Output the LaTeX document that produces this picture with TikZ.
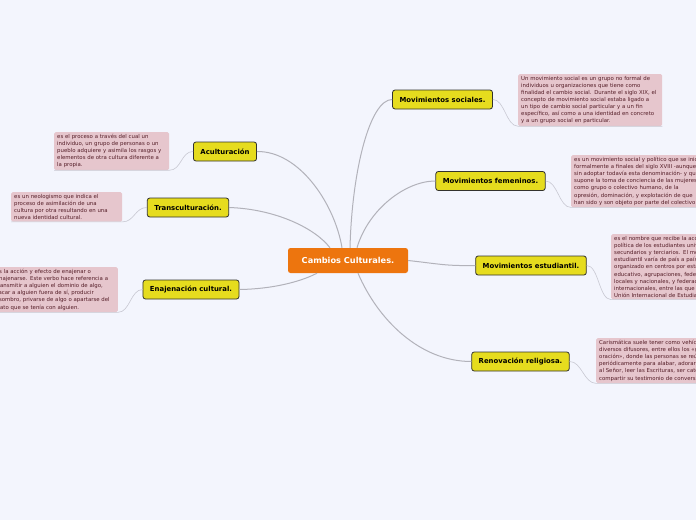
\documentclass[tikz,border=0pt]{standalone}
\usepackage{fontspec}
\setmainfont{DejaVu Sans}
\usetikzlibrary{positioning}
\definecolor{canvasBlue}{RGB}{243,245,253}
\definecolor{rootOrange}{RGB}{237,117,14}
\definecolor{topicYellow}{RGB}{230,220,30}
\definecolor{topicEdge}{RGB}{50,50,45}
\definecolor{notePink}{RGB}{230,198,205}
\definecolor{noteInk}{RGB}{85,30,40}
\definecolor{branchGray}{RGB}{178,178,186}
\definecolor{twigGray}{RGB}{200,200,210}
\tikzset{
  root node/.style={fill=rootOrange,rounded corners=2.5pt,text=white,font=\bfseries\fontsize{8.2}{9}\selectfont,minimum width=120pt,minimum height=25pt,inner sep=0pt},
  topic node/.style={draw=topicEdge,fill=topicYellow,rounded corners=2.5pt,line width=0.8pt,text=black,font=\bfseries\fontsize{6.9}{7.5}\selectfont,minimum height=19pt,inner xsep=7pt,inner ysep=0pt},
  note node/.style={fill=notePink,rounded corners=1.5pt,text=noteInk,font=\fontsize{5.4}{7.1}\selectfont,align=left,inner xsep=3pt,inner ysep=2pt},
  branch line/.style={draw=branchGray,line width=1pt},
  twig line/.style={draw=twigGray,line width=0.6pt}
}
\begin{document}
\begin{tikzpicture}[x=1pt,y=-1pt]
      \useasboundingbox (0,0) rectangle (696,520);
      \fill[canvasBlue] (0,0) rectangle (696,520);
      \clip (0,0) rectangle (696,520);
      \node[root node] (root) at (348,260.5) {Cambios Culturales.};
      \node[topic node] (soc) at (442.5,99.5) {Movimientos sociales.};
      \node[topic node] (fem) at (490.5,181) {Movimientos femeninos.};
      \node[topic node] (estud) at (531,265.5) {Movimientos estudiantil.};
      \node[topic node] (renov) at (520.5,361.5) {Renovación religiosa.};
      \node[topic node] (acult) at (225,151.5) {Aculturación};
      \node[topic node] (trans) at (188,207.5) {Transculturación.};
      \node[topic node] (enaj) at (191,289.5) {Enajenación cultural.};
      \node[note node,text width=138pt,anchor=north west] (socnote) at (518,74) {Un movimiento social es un grupo no formal de\\individuos u organizaciones que tiene como\\finalidad el cambio social. Durante el siglo XIX, el\\concepto de movimiento social estaba ligado a\\un tipo de cambio social particular y a un fin\\específico, así como a una identidad en concreto\\y a un grupo social en particular.};
      \node[note node,text width=150pt,anchor=north west] (femnote) at (571,155) {es un movimiento social y político que se inició\\formalmente a finales del siglo XVIII -aunque\\sin adoptar todavía esta denominación- y que\\supone la toma de conciencia de las mujeres\\como grupo o colectivo humano, de la\\opresión, dominación, y explotación de que\\han sido y son objeto por parte del colectivo};
      \node[note node,text width=150pt,anchor=north west] (estudnote) at (611,234) {es el nombre que recibe la acción\\política de los estudiantes universitarios,\\secundarios y terciarios. El movimiento\\estudiantil varía de país a país,\\organizado en centros por establecimiento\\educativo, agrupaciones, federaciones\\locales y nacionales, y federaciones\\internacionales, entre las que\\Unión Internacional de Estudiantes.};
      \node[note node,text width=150pt,anchor=north west] (renovnote) at (596,338) {Carismática suele tener como vehículo\\diversos difusores, entre ellos los «grupos\\oración», donde las personas se reúnen\\periódicamente para alabar, adorar\\al Señor, leer las Escrituras, ser catequizados\\compartir su testimonio de conversión.};
      \node[note node,text width=109pt,anchor=north west] (acultnote) at (54,132) {es el proceso a través del cual un\\individuo, un grupo de personas o un\\pueblo adquiere y asimila los rasgos y\\elementos de otra cultura diferente a\\la propia.};
      \node[note node,text width=105pt,anchor=north west] (transnote) at (11,192) {es un neologismo que indica el\\proceso de asimilación de una\\cultura por otra resultando en una\\nueva identidad cultural.};
      \node[note node,text width=119pt,anchor=north east] (enajnote) at (118,267) {Es la acción y efecto de enajenar o\\enajenarse. Este verbo hace referencia a\\transmitir a alguien el dominio de algo,\\sacar a alguien fuera de sí, producir\\asombro, privarse de algo o apartarse del\\trato que se tenía con alguien.};
      \draw[branch line] ([xshift=2pt]root.north) .. controls (352,170) and (370,99.5) .. (soc.west);
      \draw[branch line] ([xshift=9pt]root.north) .. controls (368,210) and (405,181) .. (fem.west);
      \draw[branch line] (root.east) .. controls (440,264) and (445,266) .. (estud.west);
      \draw[branch line] ([xshift=10pt]root.south) .. controls (378,320) and (420,361.5) .. (renov.west);
      \draw[branch line] (acult.east) .. controls (300,151) and (335,205) .. ([xshift=-6pt]root.north);
      \draw[branch line] (trans.east) .. controls (275,209) and (315,228) .. ([xshift=-18pt]root.north);
      \draw[branch line] (enaj.east) .. controls (272,289) and (300,282) .. ([xshift=-31pt]root.south);
      \draw[twig line] (soc.east) .. controls +(12,0) and +(-12,0) .. (socnote.south west) -- (socnote.south east);
      \draw[twig line] (fem.east) .. controls +(12,0) and +(-12,0) .. (femnote.south west) -- (femnote.south east);
      \draw[twig line] (estud.east) .. controls +(12,0) and +(-12,0) .. (estudnote.south west) -- (estudnote.south east);
      \draw[twig line] (renov.east) .. controls +(12,0) and +(-12,0) .. (renovnote.south west) -- (renovnote.south east);
      \draw[twig line] (acult.west) .. controls +(-12,0) and +(12,0) .. (acultnote.south east) -- (acultnote.south west);
      \draw[twig line] (trans.west) .. controls +(-12,0) and +(12,0) .. (transnote.south east) -- (transnote.south west);
      \draw[twig line] (enaj.west) .. controls +(-12,0) and +(12,0) .. (enajnote.south east) -- (enajnote.south west);
    \end{tikzpicture}
\end{document}
